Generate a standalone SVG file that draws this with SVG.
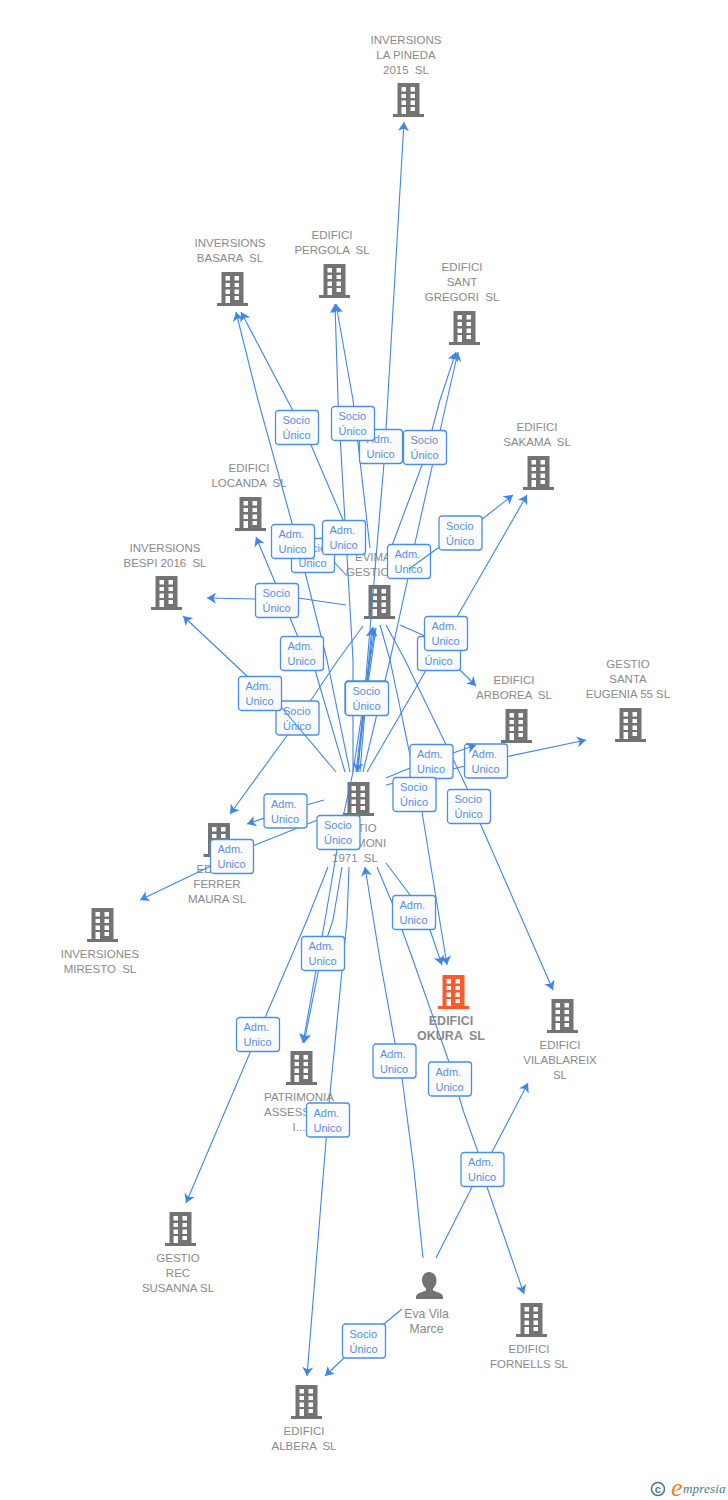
<svg xmlns="http://www.w3.org/2000/svg" width="728" height="1500" viewBox="0 0 728 1500">
<style>
text{font-family:"Liberation Sans",Arial,sans-serif}
.n{font-size:11.500px;fill:#8a8a8a;text-anchor:middle}
.e{font-size:12.200px}
.w{word-spacing:3px}
.o{font-weight:bold;font-size:12.500px}
.c path{fill:none;stroke:#3f86e6;stroke-width:1.100;stroke-linejoin:round;marker-end:url(#a)}
.c path.p{marker-end:none}
.l rect{width:43px;height:34px;rx:3px;fill:url(#g);stroke:#4a8ee6;stroke-width:1.300}
.l text{font-size:11px;fill:#5590e4}
</style>
<defs>
<linearGradient id="g" x1="0" y1="0" x2="1" y2="1"><stop offset="0" stop-color="#ffffff"/><stop offset="1" stop-color="#f8f8f8"/></linearGradient>
<marker id="a" markerUnits="userSpaceOnUse" markerWidth="12" markerHeight="12" viewBox="0 0 12 12" refX="9" refY="6" orient="auto"><path d="M9 6L0 0.500L2.500 6L0 11.500Z" fill="#3f86e6"/></marker>
<path id="b" fill-rule="evenodd" d="M-11-17H11V14H15.500V17H-15.500V14H-11ZM-7-13V-8.500H-2.500V-13ZM2-13V-8.500H6.500V-13ZM-7-6V-2H-2.500V-6ZM2-6V-2H6.500V-6ZM-7 0.500V5H-2.500V0.500ZM2 0.500V5H6.500V0.500ZM-7 7V14H-2.500V7ZM2 7V11H6.500V7Z"/>
</defs>
<g id="nodes" fill="#737373">
<g id="n1"><use href="#b" x="408.500" y="100"/><text class="n" x="406" y="44">INVERSIONS</text><text class="n" x="406" y="59">LA PINEDA</text><text class="n w" x="406" y="74">2015 SL</text></g>
<g id="n2"><use href="#b" x="232.500" y="289"/><text class="n" x="230" y="247">INVERSIONS</text><text class="n w" x="230" y="262">BASARA SL</text></g>
<g id="n3"><use href="#b" x="334.500" y="281"/><text class="n" x="332" y="239">EDIFICI</text><text class="n w" x="332" y="254">PERGOLA SL</text></g>
<g id="n4"><use href="#b" x="464.500" y="328"/><text class="n" x="462" y="271">EDIFICI</text><text class="n" x="462" y="286">SANT</text><text class="n w" x="462" y="301">GREGORI SL</text></g>
<g id="n5"><use href="#b" x="538.500" y="473"/><text class="n" x="537" y="431">EDIFICI</text><text class="n w" x="537" y="446">SAKAMA SL</text></g>
<g id="n6"><use href="#b" x="250.500" y="514"/><text class="n" x="249" y="472">EDIFICI</text><text class="n w" x="249" y="487">LOCANDA SL</text></g>
<g id="n7"><use href="#b" x="166.500" y="593"/><text class="n" x="165" y="552">INVERSIONS</text><text class="n" x="165" y="567">BESPI 2016<tspan class="w"> SL</tspan></text></g>
<g id="n8"><use href="#b" x="379.500" y="602"/><text class="n" style="text-anchor:start" x="355" y="561">EVIMA</text><text class="n" style="text-anchor:start" x="346" y="576">GESTIO</text></g>
<g id="n9"><use href="#b" x="630.500" y="725"/><text class="n" x="628" y="668">GESTIO</text><text class="n" x="628" y="683">SANTA</text><text class="n" x="628" y="698">EUGENIA 55 SL</text></g>
<g id="n10"><use href="#b" x="516.500" y="726"/><text class="n" x="514" y="684">EDIFICI</text><text class="n w" x="514" y="699">ARBOREA SL</text></g>
<g id="n11"><use href="#b" x="358.500" y="799"/><text class="n" x="355" y="832">GESTIO</text><text class="n" x="355" y="847">PATRIMONI</text><text class="n w" x="355" y="862">1971 SL</text></g>
<g id="n12"><use href="#b" x="219" y="840"/><text class="n" x="217" y="873">EDIFICI</text><text class="n" x="217" y="888">FERRER</text><text class="n" x="217" y="903">MAURA SL</text></g>
<g id="n13"><use href="#b" x="102.500" y="925"/><text class="n" x="100" y="958">INVERSIONES</text><text class="n w" x="100" y="973">MIRESTO SL</text></g>
<g id="n14" fill="#ff5a2b"><use href="#b" x="453.500" y="992"/><text class="n o" x="451" y="1025">EDIFICI</text><text class="n o w" x="451" y="1040">OKURA SL</text></g>
<g id="n15"><use href="#b" x="562.500" y="1016"/><text class="n" x="560" y="1049">EDIFICI</text><text class="n" x="560" y="1064">VILABLAREIX</text><text class="n" x="560" y="1079">SL</text></g>
<g id="n16"><use href="#b" x="301.500" y="1068"/><text class="n" x="299" y="1101">PATRIMONIA</text><text class="n" style="text-anchor:start" x="264" y="1116">ASSESS</text><text class="n" x="299" y="1131">I...</text></g>
<g id="n17"><use href="#b" x="180.500" y="1229"/><text class="n" x="178" y="1262">GESTIO</text><text class="n" x="178" y="1277">REC</text><text class="n" x="178" y="1292">SUSANNA SL</text></g>
<g id="n18"><path d="M429 1272c4.500 0 7.500 3.500 7.500 8.500c0 3.500-1.500 6-3.500 8v2c3 1.500 10 2.500 10 6.500v2H416v-2c0-4 7-5 10-6.500v-2c-2-2-4-4.500-4-8c0-5 3-8.500 7-8.500Z"/><text class="n e" x="426.500" y="1318">Eva Vila</text><text class="n e" x="426.500" y="1333">Marce</text></g>
<g id="n19"><use href="#b" x="531.500" y="1320"/><text class="n" x="529" y="1353">EDIFICI</text><text class="n" x="529" y="1368">FORNELLS SL</text></g>
<g id="n20"><use href="#b" x="306.500" y="1402"/><text class="n" x="304" y="1435">EDIFICI</text><text class="n w" x="304" y="1450">ALBERA SL</text></g>
</g>
<g id="connectors" class="c">
<path d="M358 772L384 463L386 429L404 122"/>
<path d="M350 772L327 660L302 560L292 523L258 400L236 312"/>
<path d="M349 548L343 520L311 445L241 312"/>
<path d="M370 548L353 400L336 304"/>
<path d="M353 772L353 660L338 400L335 304"/>
<path d="M389 556L393 543L422 465L432 430L440 400L456 352"/>
<path d="M363 772L390 660L408 578L415 543L447 400L458 352"/>
<path d="M345 772L315 670L298 637L256 537"/>
<path d="M346 605L298 598L255 599L207 598"/>
<path class="p" d="M347 576L335 563L320 550"/>
<path d="M363 626L338 660L311 700L286 737L230 814"/>
<path d="M324 800L285 811L247 824"/>
<path d="M320 819L255 845L140 900"/>
<path d="M375 628L353 772L343 817L337 850L325 920L303 1043"/>
<path d="M342 867L333 920L322 953L304 1043"/>
<path d="M328 867L307 920L258 1034L186 1203"/>
<path d="M349 867L347 920L329 1104L307 1376"/>
<path d="M360 772L366 698L373 627"/>
<path d="M356 772L365 698L372 628"/>
<path d="M376 628L366 698L357 772"/>
<path d="M386 785L486 761L586 740"/>
<path d="M380 625L390 660L422 812L447 965"/>
<path d="M386 863L410 895L430 930L442 965"/>
<path d="M386 625L405 660L467 788L480 823L553 990"/>
<path d="M400 625L425 636L460 670L476 686"/>
<path d="M367 772L432 660L458 615L527 495"/>
<path d="M377 867L393 905L413 960L449 1062L463 1110L478 1152L487 1187L524 1294"/>
<path d="M436 1258L472 1187L492 1152L528 1083"/>
<path d="M423 1258L414 1170L402 1078L395 1043L380 960L365 867"/>
<path d="M402 1309L384 1324L344 1358L325 1376"/>
<g class="l" transform="translate(275.500 410.500)"><rect/><text x="7" y="13.500">Socio</text><text x="7" y="28.500">Único</text></g>
<g class="l" transform="translate(359.500 429.500)"><rect/><text x="7" y="13.500">Adm.</text><text x="7" y="28.500">Unico</text></g>
<g class="l" transform="translate(331.500 406.500)"><rect/><text x="7" y="13.500">Socio</text><text x="7" y="28.500">Único</text></g>
<g class="l" transform="translate(403.500 430.500)"><rect/><text x="7" y="13.500">Socio</text><text x="7" y="28.500">Único</text></g>
<g class="l" transform="translate(291.500 538.500)"><rect/><text x="7" y="13.500">Socio</text><text x="7" y="28.500">Único</text></g>
<g class="l" transform="translate(271.500 524.500)"><rect/><text x="7" y="13.500">Adm.</text><text x="7" y="28.500">Unico</text></g>
<g class="l" transform="translate(322.500 520.500)"><rect/><text x="7" y="13.500">Adm.</text><text x="7" y="28.500">Unico</text></g>
<g class="l" transform="translate(387.500 544.500)"><rect/><text x="7" y="13.500">Adm.</text><text x="7" y="28.500">Unico</text></g>
<path d="M409 569L438 548L481 520L513 495"/>
<g class="l" transform="translate(439 516)"><rect/><text x="7" y="13.500">Socio</text><text x="7" y="28.500">Único</text></g>
<g class="l" transform="translate(255.500 583.500)"><rect/><text x="7" y="13.500">Socio</text><text x="7" y="28.500">Único</text></g>
<g class="l" transform="translate(417.500 636.500)"><rect/><text x="7" y="13.500">Socio</text><text x="7" y="28.500">Único</text></g>
<g class="l" transform="translate(424.500 616.500)"><rect/><text x="7" y="13.500">Adm.</text><text x="7" y="28.500">Unico</text></g>
<g class="l" transform="translate(280.500 636.500)"><rect/><text x="7" y="13.500">Adm.</text><text x="7" y="28.500">Unico</text></g>
<g class="l" transform="translate(276 701)"><rect/><text x="7" y="13.500">Socio</text><text x="7" y="28.500">Único</text></g>
<path d="M336 772L282 708L247 676L183 616"/>
<g class="l" transform="translate(238.500 676.500)"><rect/><text x="7" y="13.500">Adm.</text><text x="7" y="28.500">Unico</text></g>
<g class="l" transform="translate(345 681)"><rect/><text x="7" y="13.500">Socio</text><text x="7" y="28.500">Único</text></g>
<g class="l" transform="translate(345.500 681.500)"><rect/><text x="7" y="13.500">Socio</text><text x="7" y="28.500">Único</text></g>
<g class="l" transform="translate(464.500 744)"><rect/><text x="7" y="13.500">Adm.</text><text x="7" y="28.500">Unico</text></g>
<path d="M386 778L410 768L453 753L476 745"/>
<g class="l" transform="translate(410 744.500)"><rect/><text x="7" y="13.500">Adm.</text><text x="7" y="28.500">Unico</text></g>
<g class="l" transform="translate(393 777.500)"><rect/><text x="7" y="13.500">Socio</text><text x="7" y="28.500">Único</text></g>
<g class="l" transform="translate(447.500 789.500)"><rect/><text x="7" y="13.500">Socio</text><text x="7" y="28.500">Único</text></g>
<g class="l" transform="translate(264 794)"><rect/><text x="7" y="13.500">Adm.</text><text x="7" y="28.500">Unico</text></g>
<g class="l" transform="translate(317 815.500)"><rect/><text x="7" y="13.500">Socio</text><text x="7" y="28.500">Único</text></g>
<g class="l" transform="translate(210.500 839.500)"><rect/><text x="7" y="13.500">Adm.</text><text x="7" y="28.500">Unico</text></g>
<g class="l" transform="translate(392.500 895.500)"><rect/><text x="7" y="13.500">Adm.</text><text x="7" y="28.500">Unico</text></g>
<g class="l" transform="translate(301.500 936.500)"><rect/><text x="7" y="13.500">Adm.</text><text x="7" y="28.500">Unico</text></g>
<g class="l" transform="translate(236.500 1017.500)"><rect/><text x="7" y="13.500">Adm.</text><text x="7" y="28.500">Unico</text></g>
<g class="l" transform="translate(373 1044)"><rect/><text x="7" y="13.500">Adm.</text><text x="7" y="28.500">Unico</text></g>
<g class="l" transform="translate(428.500 1062)"><rect/><text x="7" y="13.500">Adm.</text><text x="7" y="28.500">Unico</text></g>
<g class="l" transform="translate(306.500 1103)"><rect/><text x="7" y="13.500">Adm.</text><text x="7" y="28.500">Unico</text></g>
<g class="l" transform="translate(461 1152.500)"><rect/><text x="7" y="13.500">Adm.</text><text x="7" y="28.500">Unico</text></g>
<g class="l" transform="translate(342.500 1324)"><rect/><text x="7" y="13.500">Socio</text><text x="7" y="28.500">Único</text></g>
</g>
<g id="logo">
<circle cx="658" cy="1489" r="6.500" fill="none" stroke="#3f7c96" stroke-width="1.500"/>
<text x="654.800" y="1492.800" font-size="11" font-weight="bold" fill="#3f7c96">c</text>
<text x="671" y="1496" font-size="26" font-style="italic" fill="#f08020" style="font-family:'Liberation Serif',serif">e</text>
<text x="683" y="1493" font-size="13" font-style="italic" letter-spacing="0.200" fill="#3f7c96" style="font-family:'Liberation Serif',serif">mpresia</text>
</g>
</svg>
